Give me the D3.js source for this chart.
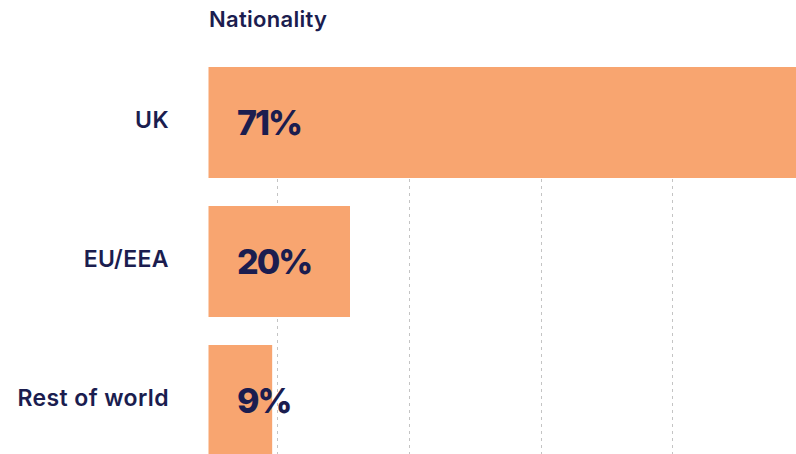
<!DOCTYPE html>
<html>
<head>
<meta charset="utf-8">
<script src="https://cdn.jsdelivr.net/npm/d3@7"></script>
<style>
  html, body { margin: 0; padding: 0; background: #fff; overflow: hidden; }
  svg { display: block; }
</style>
</head>
<body>
<svg id="chart" width="796" height="454"></svg>
<script>
const title = "Nationality";
const categories = ["UK", "EU/EEA", "Rest of world"];
const values = [71, 20, 9];
const valueLabels = ["71%", "20%", "9%"];
const gridTicks = [1, 2, 3, 4];

const W = 796, H = 454;
const navy = "#1b1d4f";
const barColor = "#f8a570";

const svg = d3.select("#chart");

const x = d3.scaleLinear().domain([0, 20, 71]).range([208.5, 350, 800]);
const y = d3.scaleBand().domain(categories).range([67, 456]).paddingInner(28 / 139).paddingOuter(0);
const grid = d3.scaleLinear().domain([0, 4]).range([145.8, 672.3]);

// gridlines
svg.append("g").selectAll("line").data(gridTicks).join("line")
  .attr("x1", d => Math.round(grid(d)) + 0.5)
  .attr("x2", d => Math.round(grid(d)) + 0.5)
  .attr("y1", 67).attr("y2", H)
  .attr("stroke", "#c4c4c4")
  .attr("stroke-width", 1)
  .attr("stroke-dasharray", "3,4");

// bars
svg.append("g").selectAll("rect").data(categories).join("rect")
  .attr("x", x(0))
  .attr("y", d => y(d))
  .attr("width", (d, i) => x(values[i]) - x(0))
  .attr("height", y.bandwidth())
  .attr("fill", barColor);

// title
svg.append("text")
  .attr("x", 209).attr("y", 27)
  .attr("font-family", "Inter, 'Noto Sans', sans-serif")
  .attr("font-weight", 600)
  .attr("font-size", 22)
  .attr("letter-spacing", 0.3)
  .attr("fill", navy)
  .text(title);

// category labels
svg.append("g").selectAll("text").data(categories).join("text")
  .attr("x", 169)
  .attr("y", d => y(d) + y.bandwidth() / 2 + 5)
  .attr("text-anchor", "end")
  .attr("font-family", "Inter, 'Noto Sans', sans-serif")
  .attr("font-weight", 600)
  .attr("font-size", 23)
  .attr("letter-spacing", 0.4)
  .attr("fill", navy)
  .text(d => d);

// value labels
svg.append("g").selectAll("text").data(categories).join("text")
  .attr("x", 237)
  .attr("y", d => y(d) + y.bandwidth() / 2 + 12)
  .attr("font-family", "Inter, 'Noto Sans', sans-serif")
  .attr("font-weight", 800)
  .attr("font-size", 34)
  .attr("letter-spacing", -2)
  .attr("fill", navy)
  .text((d, i) => valueLabels[i]);
</script>
</body>
</html>
